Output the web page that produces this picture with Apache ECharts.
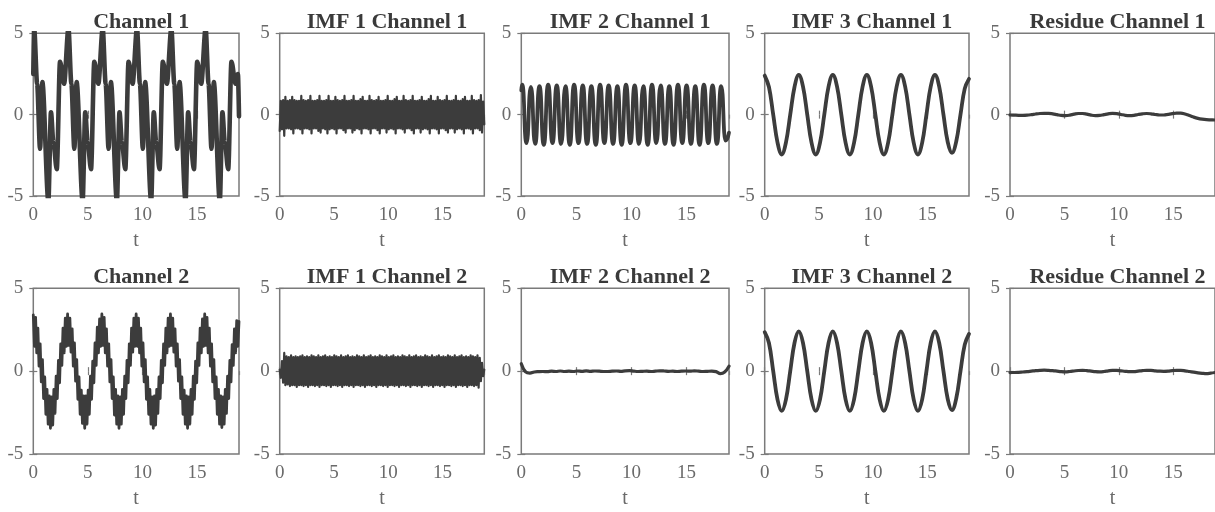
<!DOCTYPE html>
<html><head><meta charset="utf-8">
<script src="https://cdn.jsdelivr.net/npm/echarts@6/dist/echarts.min.js"></script>
<style>html,body{margin:0;padding:0;background:#fff}#c{width:1215px;height:512px}</style>
</head><body><div id="c"></div>
<script>
// ---------------- data ----------------
const titles = ['Channel 1','IMF 1 Channel 1','IMF 2 Channel 1','IMF 3 Channel 1','Residue Channel 1',
                'Channel 2','IMF 1 Channel 2','IMF 2 Channel 2','IMF 3 Channel 2','Residue Channel 2'];
const xTickLabels = [0, 5, 10, 15];
const yTickLabels = [-5, 0, 5];
const T_MAX = 6 * Math.PI;          // end of the time axis
const DT_DENSE = Math.PI / 30;      // sampling step of the dense (high-frequency) records
const DT_SPARSE = Math.PI / 8;      // sampling step of the smooth records

// Channel 1 (turning points)
const ch1T = [0, 0.08, 0.35, 0.62, 0.83, 1.38, 1.62, 1.84, 2.15, 2.45, 2.82,
  3.22, 3.49, 3.76, 3.97, 4.52, 4.76, 4.98, 5.29, 5.59, 5.96,
  6.36, 6.63, 6.90, 7.11, 7.66, 7.90, 8.12, 8.43, 8.73, 9.10,
  9.50, 9.77, 10.04, 10.25, 10.80, 11.04, 11.26, 11.57, 11.87, 12.24,
  12.65, 12.92, 13.19, 13.40, 13.95, 14.19, 14.41, 14.72, 15.02, 15.39,
  15.79, 16.06, 16.33, 16.54, 17.09, 17.33, 17.55, 17.86, 18.16, 18.53, 18.75, 18.85];
const ch1V = [2.5, 5.3, 1.9, -2.1, 2.0, -5.3, 0.15, -1.7, -3.35, 3.25, 1.9,
  5.3, 1.9, -2.1, 2.0, -5.3, 0.15, -1.7, -3.35, 3.25, 1.9,
  5.3, 1.9, -2.1, 2.0, -5.3, 0.15, -1.7, -3.35, 3.25, 1.9,
  5.3, 1.9, -2.1, 2.0, -5.3, 0.15, -1.7, -3.35, 3.25, 1.9,
  5.3, 1.9, -2.1, 2.0, -5.3, 0.15, -1.7, -3.35, 3.25, 1.9,
  5.3, 1.9, -2.1, 2.0, -5.3, 0.15, -1.7, -3.35, 3.25, 1.9, 2.5, -0.1];

// IMF 1 Channel 1 (dense)
const imf1Ch1 = [
 -1.0, 0.85, -0.9, 0.9, -1.3, 1.1, -0.85, 0.85, -0.85, 0.9,
 -0.9, 1.1, -1.15, 0.9, -0.85, 0.85, -0.85, 0.85, -0.9, 1.15,
 -1.15, 0.9, -0.85, 0.85, -0.85, 0.9, -0.9, 1.15, -1.15, 0.85,
 -0.85, 0.85, -0.85, 0.9, -1.0, 1.15, -1.1, 0.85, -0.85, 0.85,
 -0.9, 0.9, -1.15, 1.15, -0.9, 0.85, -0.85, 0.85, -0.9, 1.1,
 -1.15, 0.9, -0.85, 0.85, -0.85, 0.9, -0.95, 1.15, -1.1, 0.85,
 -0.85, 0.85, -0.85, 0.9, -1.1, 1.15, -0.95, 0.85, -0.85, 0.85,
 -0.9, 0.95, -1.15, 1.1, -0.85, 0.85, -0.85, 0.85, -0.9, 1.15,
 -1.15, 0.9, -0.85, 0.85, -0.85, 0.9, -0.95, 1.1, -1.15, 0.85,
 -0.85, 0.85, -0.85, 0.9, -1.1, 1.15, -0.9, 0.85, -0.85, 0.85,
 -0.9, 0.95, -1.15, 1.1, -0.85, 0.85, -0.85, 0.85, -0.9, 1.15,
 -1.1, 0.9, -0.85, 0.85, -0.85, 0.9, -0.95, 1.15, -1.15, 0.85,
 -0.85, 0.85, -0.85, 0.9, -1.1, 1.1, -0.9, 0.85, -0.85, 0.85,
 -0.9, 0.95, -1.15, 1.15, -0.85, 0.85, -0.85, 0.85, -0.9, 1.1,
 -1.15, 0.9, -0.85, 0.85, -0.85, 0.9, -0.95, 1.15, -1.1, 0.85,
 -0.85, 0.85, -0.85, 0.9, -1.1, 1.15, -0.9, 0.85, -0.85, 0.85,
 -0.9, 0.95, -1.15, 1.1, -0.85, 0.85, -0.85, 0.85, -0.9, 1.15,
 -1.15, 0.9, -0.85, 0.85, -0.85, 0.9, -0.95, 1.2, -1.1, 0.8, -0.6];

// IMF 2 Channel 1 (turning points)
const imf2Ch1T = [0, 0.08, 0.47, 0.87, 1.26, 1.65, 2.04, 2.44, 2.83, 3.22, 3.61, 4.01, 4.40, 4.79, 5.19, 5.58, 5.97,
  6.36, 6.76, 7.15, 7.54, 7.93, 8.33, 8.72, 9.11, 9.50, 9.90, 10.29, 10.68, 11.08, 11.47, 11.86, 12.25,
  12.65, 13.04, 13.43, 13.82, 14.22, 14.61, 15.00, 15.40, 15.79, 16.18, 16.57, 16.97, 17.36, 17.75, 18.14, 18.54, 18.85];
const imf2Ch1V = [1.5, 1.85, -1.75, 1.7, -1.8, 1.75, -1.85, 1.85, -1.75, 1.8, -1.8, 1.75, -1.85, 1.85, -1.75, 1.8, -1.8,
  1.75, -1.85, 1.85, -1.75, 1.8, -1.8, 1.75, -1.85, 1.85, -1.75, 1.8, -1.8, 1.75, -1.85, 1.85, -1.75,
  1.8, -1.8, 1.75, -1.85, 1.85, -1.75, 1.8, -1.8, 1.75, -1.85, 1.85, -1.75, 1.8, -1.8, 1.75, -1.6, -1.1];

// IMF 3 Channel 1 (sparse grid)
const imf3Ch1 = [2.4, 1.7, 0, -1.7, -2.45, -1.7, 0, 1.7, 2.45, 1.72, 0, -1.72, -2.45, -1.72, 0, 1.72,
  2.45, 1.72, 0, -1.72, -2.45, -1.72, 0, 1.72, 2.45, 1.72, 0, -1.72, -2.45, -1.72, 0, 1.72,
  2.45, 1.72, 0, -1.72, -2.45, -1.72, 0, 1.72, 2.45, 1.72, 0, -1.68, -2.35, -1.65, 0, 1.6, 2.2];

// Residue Channel 1 (sparse grid)
const resCh1 = [-0.02, -0.03, -0.04, -0.04, -0.03, 0.0, 0.04, 0.07, 0.08, 0.08, 0.05, 0.0, -0.05, -0.06, -0.03, 0.03,
  0.07, 0.07, 0.03, -0.03, -0.06, -0.05, 0.0, 0.05, 0.08, 0.06, 0.01, -0.04, -0.06, -0.04, 0.01, 0.05,
  0.07, 0.05, 0.01, -0.02, -0.02, 0.02, 0.06, 0.09, 0.09, 0.04, -0.05, -0.15, -0.23, -0.28, -0.31, -0.32, -0.33];

// Channel 2 (dense)
const ch2V = [
 3.40, 1.50, 3.25, 1.10, 2.60, 0.30, 1.65, -0.65, 0.70, -1.65, -0.35, -2.60, -1.10, -3.20, -1.50, -3.45, -1.55, -3.25, -1.10, -2.55, -0.30, -1.65, 0.65, -0.70, 1.65, 0.35, 2.60, 1.10, 3.20, 1.50,
 3.45, 1.55, 3.20, 1.15, 2.55, 0.30, 1.70, -0.60, 0.70, -1.70, -0.35, -2.60, -1.15, -3.15, -1.50, -3.45, -1.50, -3.20, -1.15, -2.60, -0.30, -1.70, 0.60, -0.70, 1.70, 0.35, 2.65, 1.10, 3.15, 1.50,
 3.45, 1.55, 3.25, 1.10, 2.55, 0.30, 1.65, -0.65, 0.70, -1.65, -0.35, -2.65, -1.10, -3.20, -1.50, -3.45, -1.55, -3.20, -1.10, -2.60, -0.30, -1.65, 0.65, -0.70, 1.65, 0.35, 2.60, 1.15, 3.20, 1.50,
 3.45, 1.50, 3.20, 1.10, 2.60, 0.30, 1.70, -0.65, 0.70, -1.70, -0.35, -2.60, -1.10, -3.20, -1.55, -3.45, -1.50, -3.25, -1.10, -2.55, -0.35, -1.65, 0.65, -0.70, 1.65, 0.35, 2.60, 1.10, 3.20, 1.50,
 3.45, 1.55, 3.20, 1.15, 2.55, 0.30, 1.65, -0.60, 0.70, -1.65, -0.35, -2.60, -1.15, -3.20, -1.50, -3.45, -1.55, -3.20, -1.10, -2.60, -0.30, -1.70, 0.60, -0.70, 1.70, 0.35, 2.60, 1.10, 3.15, 1.50,
 3.45, 1.55, 3.25, 1.10, 2.60, 0.30, 1.65, -0.65, 0.70, -1.65, -0.35, -2.60, -1.10, -3.20, -1.50, -3.40, -1.55, -3.20, -1.10, -2.55, -0.30, -1.65, 0.65, -0.65, 1.60, 0.35, 2.55, 1.10, 3.05, 1.50,
 3.0];

// IMF 1 Channel 2 (dense)
const imf1Ch2 = [
 0.1, -0.4, 0.6, -0.7, 1.1, -0.85, 0.9, -0.8, 0.85, -0.9,
 0.95, -0.85, 0.85, -0.85, 0.9, -0.95, 0.85, -0.85, 0.9, -0.85,
 0.95, -0.9, 0.85, -0.85, 0.9, -0.95, 0.85, -0.85, 0.95, -0.85,
 0.9, -0.9, 0.85, -0.85, 0.95, -0.95, 0.85, -0.85, 0.9, -0.85,
 0.95, -0.9, 0.85, -0.85, 0.9, -0.95, 0.85, -0.85, 0.95, -0.85,
 0.9, -0.9, 0.85, -0.85, 0.95, -0.95, 0.85, -0.85, 0.9, -0.85,
 0.95, -0.9, 0.85, -0.85, 0.9, -0.95, 0.85, -0.85, 0.95, -0.85,
 0.9, -0.9, 0.85, -0.85, 0.95, -0.95, 0.85, -0.85, 0.9, -0.85,
 0.95, -0.9, 0.85, -0.85, 0.9, -0.95, 0.85, -0.85, 0.95, -0.85,
 0.9, -0.9, 0.85, -0.85, 0.95, -0.95, 0.85, -0.85, 0.9, -0.85,
 0.95, -0.9, 0.85, -0.85, 0.9, -0.95, 0.85, -0.85, 0.95, -0.85,
 0.9, -0.9, 0.85, -0.85, 0.95, -0.95, 0.85, -0.85, 0.9, -0.85,
 0.95, -0.9, 0.85, -0.85, 0.9, -0.95, 0.85, -0.85, 0.95, -0.85,
 0.9, -0.9, 0.85, -0.85, 0.95, -0.95, 0.85, -0.85, 0.9, -0.85,
 0.95, -0.9, 0.85, -0.85, 0.9, -0.95, 0.85, -0.85, 0.95, -0.85,
 0.9, -0.9, 0.85, -0.85, 0.95, -0.95, 0.85, -0.85, 0.9, -0.85,
 0.95, -0.9, 0.85, -0.85, 0.9, -0.95, 0.85, -0.85, 0.95, -0.85,
 0.9, -0.9, 0.85, -0.85, 0.95, -1.0, 0.8, -0.6, 0.5, -0.3, 0.1];

// IMF 2 Channel 2 (sparse grid)
const imf2Ch2 = [0.45, -0.05, -0.12, -0.05, -0.03, -0.02, -0.03, 0.0, -0.02, 0.01, -0.02, 0.0, -0.02, 0.01, -0.01, 0.02,
  -0.01, 0.01, 0.0, -0.02, -0.02, 0.0, 0.01, -0.01, 0.02, 0.03, 0.0, -0.02, -0.01, 0.0, -0.02, 0.0,
  0.02, 0.01, -0.01, 0.0, -0.02, 0.0, 0.01, 0.0, 0.02, 0.0, -0.02, -0.01, 0.0, -0.03, -0.15, -0.05, 0.3];

// IMF 3 Channel 2 (sparse grid)
const imf3Ch2 = [2.35, 1.7, 0, -1.7, -2.4, -1.7, 0, 1.7, 2.4, 1.7, 0, -1.7, -2.4, -1.7, 0, 1.7,
  2.4, 1.7, 0, -1.7, -2.4, -1.7, 0, 1.7, 2.4, 1.7, 0, -1.7, -2.4, -1.7, 0, 1.7,
  2.4, 1.7, 0, -1.7, -2.4, -1.7, 0, 1.7, 2.4, 1.7, 0, -1.68, -2.35, -1.65, 0, 1.6, 2.25];

// Residue Channel 2 (sparse grid)
const resCh2 = [-0.08, -0.08, -0.07, -0.05, -0.03, 0.0, 0.03, 0.05, 0.06, 0.05, 0.03, 0.0, -0.03, -0.04, -0.02, 0.01,
  0.04, 0.05, 0.03, 0.0, -0.03, -0.04, -0.02, 0.02, 0.05, 0.05, 0.02, -0.01, -0.03, -0.03, 0.0, 0.03,
  0.05, 0.05, 0.02, 0.0, -0.01, 0.0, 0.03, 0.05, 0.05, 0.02, -0.02, -0.06, -0.1, -0.13, -0.15, -0.12, -0.08];

// ---------------- layout / style ----------------
const FONT = '"Liberation Serif", "Times New Roman", serif';
const colL = [33.3, 279.7, 521.3, 764.7, 1010];
const colW = [205.7, 204.6, 207.7, 204.3, 205];
const rowT = [33.3, 288.3];
const rowH = [162.7, 165.7];
const titleTop = [6, 261];
const LINE = '#3c3c3c', FRAME = '#7a7a7a', LABEL = '#6a6a6a';

const pairs = (ts, vs) => vs.map((v, i) => [ts[i], v]);
const onGrid = (vs, step) => vs.map((v, i) => [i * step, v]);

// mono: turning-point records -> flat tangents at extremes
const panels = [
  { data: pairs(ch1T, ch1V), lw: 4.6, smooth: 0.3, mono: true },
  { data: onGrid(imf1Ch1, DT_DENSE), lw: 2.2, smooth: false },
  { data: pairs(imf2Ch1T, imf2Ch1V), lw: 3.8, smooth: 0.6, mono: true },
  { data: onGrid(imf3Ch1, DT_SPARSE), lw: 3.8, smooth: 0.4 },
  { data: onGrid(resCh1, DT_SPARSE), lw: 3.2, smooth: 0.4 },
  { data: onGrid(ch2V, DT_DENSE), lw: 2.8, smooth: false },
  { data: onGrid(imf1Ch2, DT_DENSE), lw: 2.2, smooth: false },
  { data: onGrid(imf2Ch2, DT_SPARSE), lw: 3.2, smooth: 0.4 },
  { data: onGrid(imf3Ch2, DT_SPARSE), lw: 3.8, smooth: 0.4 },
  { data: onGrid(resCh2, DT_SPARSE), lw: 3.2, smooth: 0.4 }
];

const grid = [], xAxis = [], yAxis = [], series = [], title = [];
const tickStyle = { inside: true, length: 4, lineStyle: { color: FRAME, width: 1.2 } };
const xFmt = v => (xTickLabels.some(t => Math.abs(t - v) < 1e-6) ? String(v) : '');
const yFmt = v => (yTickLabels.some(t => Math.abs(t - v) < 1e-6) ? String(v) : '');

panels.forEach((p, i) => {
  const r = Math.floor(i / 5), c = i % 5;
  grid.push({ left: colL[c], top: rowT[r], width: colW[c], height: rowH[r], show: true,
    borderColor: FRAME, borderWidth: 1.5, backgroundColor: 'transparent', containLabel: false });
  const xBase = { gridIndex: i, type: 'value', min: 0, max: T_MAX, interval: 5,
    axisLine: { show: false }, splitLine: { show: false }, axisTick: tickStyle };
  xAxis.push(Object.assign({}, xBase, { position: 'bottom',
    axisLabel: { margin: 10, color: LABEL, fontFamily: FONT, fontSize: 19, formatter: xFmt, showMaxLabel: false },
    name: 't', nameLocation: 'middle', nameGap: 35,
    nameTextStyle: { color: LABEL, fontFamily: FONT, fontSize: 20 } }));
  xAxis.push(Object.assign({}, xBase, { position: 'top', axisLabel: { show: false } }));
  const yBase = { gridIndex: i, type: 'value', min: -5, max: 5, interval: 5,
    axisLine: { show: false }, splitLine: { show: false }, axisTick: tickStyle };
  yAxis.push(Object.assign({}, yBase, { position: 'left',
    axisLabel: { margin: 10, color: LABEL, fontFamily: FONT, fontSize: 19, formatter: yFmt } }));
  yAxis.push(Object.assign({}, yBase, { position: 'right', axisLabel: { show: false } }));
  const s = { type: 'line', xAxisIndex: 2 * i, yAxisIndex: 2 * i, data: p.data,
    showSymbol: false, symbol: 'none', smooth: p.smooth, clip: true,
    lineStyle: { color: LINE, width: p.lw, join: 'round', cap: 'round' }, animation: false, z: 1 };
  if (p.mono) s.smoothMonotone = 'x';
  series.push(s);
  title.push({ text: titles[i], left: colL[c] + colW[c] / 2, top: titleTop[r], textAlign: 'center',
    textStyle: { fontFamily: FONT, fontWeight: 'bold', fontSize: 22, color: '#3a3a3a' } });
});

const chart = echarts.init(document.getElementById('c'), null, { renderer: 'canvas' });
chart.setOption({ backgroundColor: '#ffffff', animation: false, title, grid, xAxis, yAxis, series });
</script>
</body></html>
